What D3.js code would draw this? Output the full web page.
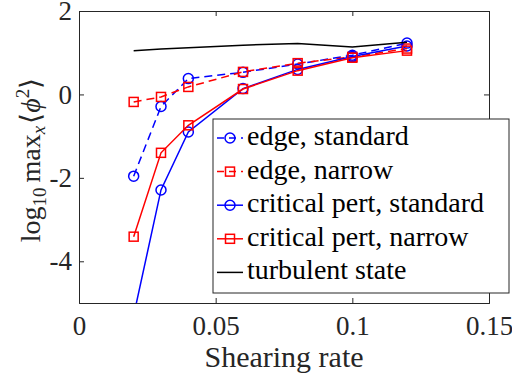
<!DOCTYPE html>
<html>
<head>
<meta charset="utf-8">
<script src="https://cdn.jsdelivr.net/npm/d3@7"></script>
<style>
  body { margin: 0; background: #fff; }
</style>
</head>
<body>
<div id="chart"></div>
<script>
const width = 512, height = 381;
const margin = {left: 79, right: 23, top: 11, bottom: 78};
const serif = "'Liberation Serif', 'Times New Roman', serif";

// shearing rates
const rates = [0.02, 0.03, 0.04, 0.06, 0.08, 0.1, 0.12];

const edgeStandard = [-1.96, -0.29, 0.38, 0.53, 0.73, 0.94, 1.23];
const edgeNarrow = [-0.18, -0.06, 0.18, 0.54, 0.75, 0.9, 1.1];
const critStandard = [-5.3, -2.29, -0.9, 0.14, 0.6, 0.91, 1.16];
const critNarrow = [-3.41, -1.4, -0.74, 0.13, 0.57, 0.88, 1.05];
const turbulent = [1.05, 1.09, 1.12, 1.18, 1.22, 1.14, 1.25];

const xTicks = [0, 0.05, 0.1, 0.15];
const yTicks = [-4, -2, 0, 2];

const seriesNames = ["edge, standard", "edge, narrow", "critical pert, standard", "critical pert, narrow", "turbulent state"];

let series = [
  {name: seriesNames[0], values: edgeStandard, color: "#0000ff", dash: "8,5", marker: "circle"},
  {name: seriesNames[1], values: edgeNarrow, color: "#ff0000", dash: "8,5", marker: "square"},
  {name: seriesNames[2], values: critStandard, color: "#0000ff", dash: null, marker: "circle"},
  {name: seriesNames[3], values: critNarrow, color: "#ff0000", dash: null, marker: "square"},
  {name: seriesNames[4], values: turbulent, color: "#000000", dash: null, marker: null},
];

let x = d3.scaleLinear().domain([0, 0.15]).range([margin.left, width - margin.right]);
let y = d3.scaleLinear().domain([-5, 2]).range([height - margin.bottom, margin.top]);

let svg = d3.select("#chart").append("svg")
    .attr("width", width)
    .attr("height", height)
    .attr("font-family", serif);

svg.append("defs").append("clipPath")
    .attr("id", "plotclip")
  .append("rect")
    .attr("x", margin.left)
    .attr("y", margin.top)
    .attr("width", width - margin.left - margin.right)
    .attr("height", height - margin.top - margin.bottom);

let axisColor = "#262626";
let tickLen = 5;

// text placed through a transform, like the rotated y label
let serifText = (t, str, size, tx, ty) => {
  t.attr("font-family", serif)
      .attr("font-size", size)
      .attr("transform", `translate(${tx},${ty}) rotate(0)`)
      .text(str);
  return t;
};

// axes, matlab style: box on, ticks pointing in
let xAxis = svg.append("g")
    .attr("transform", `translate(0,${height - margin.bottom})`)
    .call(d3.axisBottom(x).tickValues(xTicks).tickSize(-tickLen).tickPadding(13).tickFormat(d => String(d)));
let yAxis = svg.append("g")
    .attr("transform", `translate(${margin.left},0)`)
    .call(d3.axisLeft(y).tickValues(yTicks).tickSize(-tickLen).tickPadding(7).tickFormat(d => String(d)));
let xTop = svg.append("g")
    .attr("transform", `translate(0,${margin.top})`)
    .call(d3.axisTop(x).tickValues(xTicks).tickSize(-tickLen).tickFormat(""));
let yRight = svg.append("g")
    .attr("transform", `translate(${width - margin.right},0)`)
    .call(d3.axisRight(y).tickValues(yTicks).tickSize(-tickLen).tickFormat(""));

[xAxis, yAxis, xTop, yRight].forEach(g => {
  g.attr("font-family", serif).attr("font-size", 27);
  g.select(".domain").attr("stroke", axisColor).attr("stroke-width", 1);
  g.selectAll(".tick line").attr("stroke", axisColor);
  g.selectAll(".tick text")
      .attr("font-family", serif)
      .attr("font-size", 27)
      .attr("fill", axisColor)
      .attr("transform", "rotate(0)");
});

let plot = svg.append("g").attr("clip-path", "url(#plotclip)");

let line = d3.line()
    .x((d, i) => x(rates[i]))
    .y(d => y(d));

function drawMarker(g, type, color, cx, cy) {
  if (type === "circle") {
    g.append("circle")
        .attr("cx", cx).attr("cy", cy).attr("r", 5)
        .attr("fill", "none").attr("stroke", color).attr("stroke-width", 1.5);
  } else if (type === "square") {
    g.append("rect")
        .attr("x", cx - 4.5).attr("y", cy - 4.5)
        .attr("width", 9).attr("height", 9)
        .attr("fill", "none").attr("stroke", color).attr("stroke-width", 1.5);
  }
}

series.forEach(s => {
  plot.append("path")
      .datum(s.values)
      .attr("d", line)
      .attr("fill", "none")
      .attr("stroke", s.color)
      .attr("stroke-width", 1.5)
      .attr("stroke-dasharray", s.dash);
  if (s.marker) {
    s.values.forEach((v, i) => drawMarker(plot, s.marker, s.color, x(rates[i]), y(v)));
  }
});

// legend
let legend = svg.append("g");
let lx = 213, ly = 119, lw = 296, lh = 174;
legend.append("rect")
    .attr("x", lx).attr("y", ly)
    .attr("width", lw).attr("height", lh)
    .attr("fill", "#fff")
    .attr("stroke", axisColor)
    .attr("stroke-width", 1);

series.forEach((s, i) => {
  let cy = ly + 19 + i * 33.6;
  legend.append("line")
      .attr("x1", lx + 4).attr("x2", lx + 30)
      .attr("y1", cy).attr("y2", cy)
      .attr("stroke", s.color)
      .attr("stroke-width", 1.5)
      .attr("stroke-dasharray", s.dash ? "7,5" : null);
  if (s.marker) drawMarker(legend, s.marker, s.color, lx + 17, cy);
  let t = legend.append("text").attr("fill", "#000");
  serifText(t, s.name, 28, lx + 34, cy + 7);
});

// axis labels
let xlab = svg.append("text")
    .attr("text-anchor", "middle")
    .attr("fill", axisColor);
serifText(xlab, "Shearing rate", 30, 284, 367);

let ylab = svg.append("text")
    .attr("transform", `translate(40,160) rotate(-90)`)
    .attr("text-anchor", "middle")
    .attr("font-family", serif)
    .attr("font-size", 28)
    .attr("fill", axisColor);
ylab.append("tspan").text("log");
ylab.append("tspan").attr("font-size", 19).attr("dy", 6).text("10");
ylab.append("tspan").attr("dy", -6).attr("dx", 5).text("max");
ylab.append("tspan").attr("font-size", 19).attr("dy", 5).attr("font-style", "italic").text("x");
ylab.append("tspan").attr("dy", -5).attr("dx", 2).text("⟨");
ylab.append("tspan").attr("font-style", "italic").text("ϕ");
ylab.append("tspan").attr("font-size", 19).attr("dy", -11).text("2");
ylab.append("tspan").attr("dy", 11).text("⟩");
</script>
</body>
</html>
